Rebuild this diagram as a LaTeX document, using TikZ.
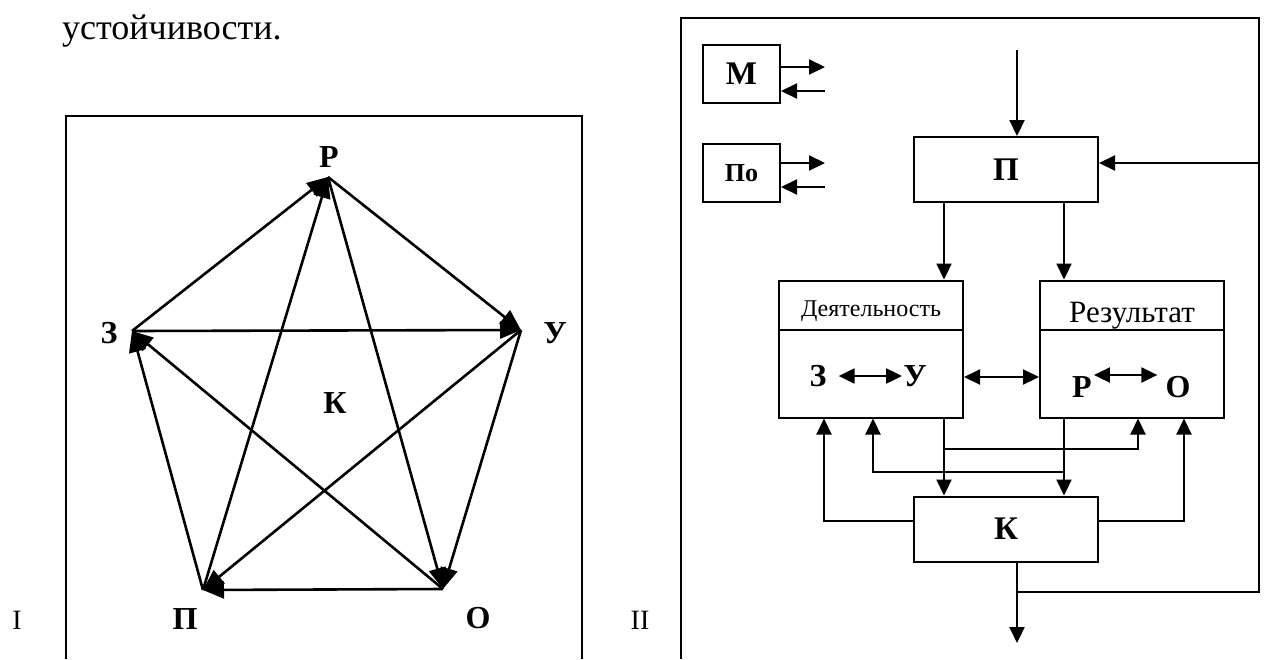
\documentclass[tikz,border=0pt]{standalone}
\usepackage{fontspec}
\setmainfont{Liberation Serif}
\usetikzlibrary{arrows.meta,calc}
\begin{document}
\begin{tikzpicture}[x=1pt,y=-1pt,line join=miter,
  arr/.style={-{Triangle[length=16pt,width=15pt]},line width=2.2pt},
  darr/.style={{Triangle[length=16pt,width=15pt]}-{Triangle[length=16pt,width=15pt]},line width=2.2pt},
  parr/.style={-{Triangle[length=21pt,width=17pt]},line width=2.6pt},
  frame/.style={line width=1.6pt},
  box/.style={draw,line width=2pt,inner sep=0pt,minimum width=184pt,minimum height=65pt,font=\fontsize{33}{33}\bfseries\selectfont},
  sbox/.style={draw,line width=2pt,inner sep=0pt,minimum width=77pt,minimum height=58pt},
  bigbox/.style={draw,line width=2pt,inner sep=0pt,minimum width=184pt,minimum height=137pt},
  lbl/.style={inner sep=0pt,font=\fontsize{32}{32}\bfseries\selectfont},
  plain/.style={inner sep=0pt,font=\fontsize{28}{28}\selectfont}]
\useasboundingbox (0,0) rectangle (1269,659);

% heading text
\node[anchor=base west,inner sep=0pt,font=\fontsize{36}{40}\selectfont] (title) at (62,39) {устойчивости.};

% ---------- diagram I ----------
\draw[frame] (66,659) -- (66,116) -- (582,116) -- (582,659);
\coordinate (vR) at (328,177);
\coordinate (vZ) at (132,331);
\coordinate (vU) at (521,330);
\coordinate (vP) at (203,590);
\coordinate (vO) at (443,589);
\node[lbl] (lR) at (329,157) {Р};
\node[lbl] (lZ) at (109,333) {З};
\node[lbl] (lU) at (555,333) {У};
\node[lbl] (lP) at (185,619) {П};
\node[lbl] (lO) at (478,618) {О};
\node[lbl] (lK) at (335,403) {К};
\draw[parr] (vZ) -- (vR);
\draw[parr] (vP) -- (vR);
\draw[parr] (vR) -- (vU);
\draw[parr] (vR) -- (vO);
\draw[parr] (vZ) -- (vU);
\draw[parr] (vU) -- (vP);
\draw[parr] (vU) -- (vO);
\draw[parr] (vO) -- (vP);
\draw[parr] (vO) -- (vZ);
\draw[parr] (vP) -- (vZ);
\node[plain,anchor=north] (n1) at (17,611) {I};
\node[plain,anchor=north] (n2) at (640,611) {II};

% ---------- diagram II ----------
\draw[frame] (681,659) -- (681,18) -- (1259,18) -- (1259,163);

\node[sbox,font=\fontsize{33}{33}\bfseries\selectfont] (M) at (741.5,74) {М};
\node[sbox,font=\fontsize{26}{26}\bfseries\selectfont] (Po) at (741.5,173) {По};
\coordinate (m1) at (825,67);
\coordinate (m2) at (825,91);
\coordinate (p1) at (825,163);
\coordinate (p2) at (825,187);
\draw[arr] (M.east |- m1) -- (m1);
\draw[arr] (m2) -- (M.east |- m2);
\draw[arr] (Po.east |- p1) -- (p1);
\draw[arr] (p2) -- (Po.east |- p2);

\node[box] (Pb) at (1006,169.5) {П};
\node[box] (Kb) at (1006,529) {К};
\node[bigbox] (D) at (871,349) {};
\node[bigbox] (R) at (1132,349) {};
\coordinate (dv) at (0,330);
\draw[line width=2pt] (D.west |- dv) -- (D.east |- dv);
\draw[line width=2pt] (R.west |- dv) -- (R.east |- dv);
\node[anchor=base,inner sep=0pt,font=\fontsize{24}{24}\selectfont] (Dt) at (871,316) {Деятельность};
\node[anchor=base,inner sep=0pt,font=\fontsize{31}{32}\selectfont] (Rt) at (1132,322) {Результат};

\node[lbl] (Z2) at (818,376) {З};
\node[lbl] (U2) at (915,376) {У};
\node[lbl] (P2) at (1082,387) {Р};
\node[lbl] (O2) at (1178,387) {О};
\draw[darr,shorten <=12pt,shorten >=1pt] (Z2.east) -- (U2.west);
\draw[darr,shorten <=2pt,shorten >=8pt] ([yshift=12pt]P2.east) -- ([yshift=12pt]O2.west);
\coordinate (yz) at (0,377);
\draw[darr] (D.east |- yz) -- (R.west |- yz);

\coordinate (top) at (1017,50);
\coordinate (bot) at (1017,643);
\coordinate (fbb) at (1259,592);
\coordinate (fbt) at (1259,163);
\draw[arr] (top) -- (top |- Pb.north);
\draw[arr] (Kb.south -| bot) -- (bot);
\draw[arr] (bot |- fbb) -- (fbb) -- (fbt) -- (Pb.east |- fbt);

\coordinate (xa) at (944,0);
\coordinate (xb) at (1064,0);
\coordinate (xc) at (1138,0);
\coordinate (xd) at (873,0);
\coordinate (xe) at (824,0);
\coordinate (xf) at (1184,0);
\coordinate (y1) at (0,449);
\coordinate (y2) at (0,472);
\coordinate (y3) at (0,521);
\draw[arr] (Pb.south -| xa) -- (D.north -| xa);
\draw[arr] (Pb.south -| xb) -- (R.north -| xb);
\draw[arr] (D.south -| xa) -- (Kb.north -| xa);
\draw[arr] (R.south -| xb) -- (Kb.north -| xb);
\draw[arr] (xa |- y1) -| (R.south -| xc);
\draw[arr] (xb |- y2) -| (D.south -| xd);
\draw[arr] (Kb.west |- y3) -| (D.south -| xe);
\draw[arr] (Kb.east |- y3) -| (R.south -| xf);
\end{tikzpicture}
\end{document}
